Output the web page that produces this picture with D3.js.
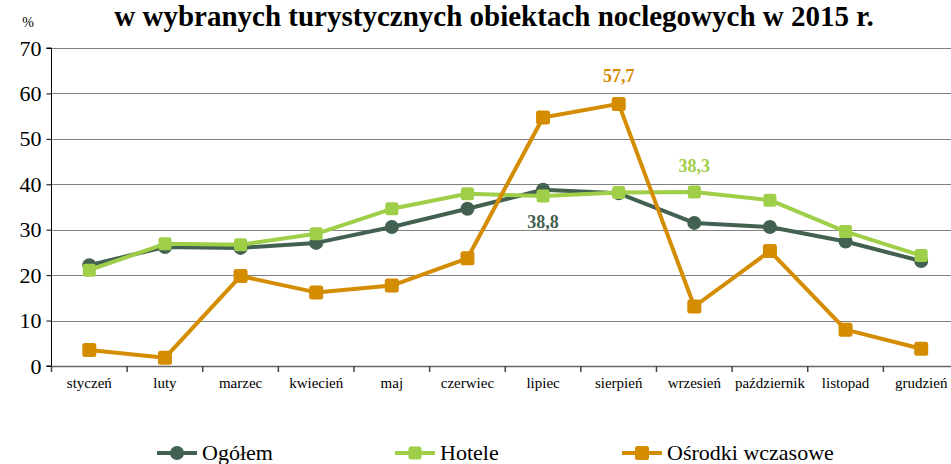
<!DOCTYPE html>
<html>
<head>
<meta charset="utf-8">
<script src="https://cdn.jsdelivr.net/npm/d3@7"></script>
<style>
  body { margin: 0; background: #fff; }
</style>
</head>
<body>
<svg width="951" height="464"></svg>
<script>
var months = ["styczeń", "luty", "marzec", "kwiecień", "maj", "czerwiec", "lipiec",
  "sierpień", "wrzesień", "październik", "listopad", "grudzień"];
var ogolem = [22.2, 26.2, 26.0, 27.1, 30.6, 34.6, 38.8, 38.0, 31.5, 30.6, 27.4, 23.1];
var hotele = [21.1, 26.9, 26.7, 29.1, 34.6, 37.9, 37.4, 38.2, 38.3, 36.5, 29.6, 24.3];
var osrodki = [3.5, 1.8, 19.8, 16.2, 17.7, 23.7, 54.7, 57.7, 13.1, 25.3, 8.0, 3.8];
var yTicks = [0, 10, 20, 30, 40, 50, 60, 70];
var seriesNames = ["Ogółem", "Hotele", "Ośrodki wczasowe"];
var labels = [
  {series: 2, index: 7, text: "57,7", dy: -22},
  {series: 1, index: 8, text: "38,3", dy: -20},
  {series: 0, index: 6, text: "38,8", dy: 38}
];

var serif = "Liberation Serif";
var svg = d3.select("svg");
var margin = {top: 48, left: 51.5};
var plotRight = 959, plotBottom = 366;

var x = d3.scaleBand().domain(months).range([margin.left, plotRight]);
var y = d3.scaleLinear().domain([0, 70]).range([plotBottom, margin.top]);

var colors = ["#436150", "#9fcf48", "#d48c00"];
var shapes = ["circle", "square", "square"];
var data = [ogolem, hotele, osrodki];

// title (its first line is cut off in the original)
svg.append("text")
  .attr("x", 494).attr("y", 26)
  .attr("text-anchor", "middle")
  .attr("font-family", serif)
  .attr("font-size", 29).attr("font-weight", "bold")
  .text("w wybranych turystycznych obiektach noclegowych w 2015 r.");

svg.append("text")
  .attr("x", 28).attr("y", 27)
  .attr("text-anchor", "middle")
  .attr("font-family", serif)
  .attr("font-size", 14)
  .text("%");

// gridlines
svg.append("g").selectAll("line")
  .data(yTicks.filter(function(d) { return d > 0; }))
  .enter().append("line")
    .attr("x1", margin.left).attr("x2", plotRight)
    .attr("y1", function(d) { return Math.round(y(d)) + 0.5; })
    .attr("y2", function(d) { return Math.round(y(d)) + 0.5; })
    .attr("stroke", "#000")
    .attr("stroke-width", 1)
    .attr("stroke-dasharray", "1,1");

// y axis
var yAxis = svg.append("g")
  .attr("transform", "translate(" + margin.left + ",0)")
  .call(d3.axisLeft(y).tickValues(yTicks).tickSize(5).tickPadding(5));
yAxis.attr("font-family", serif).attr("font-size", 22);
yAxis.select(".domain").attr("stroke", "#000").attr("d", "M-5," + y(70) + "H0V" + plotBottom + "H-5");
yAxis.selectAll(".tick line").attr("stroke", "#000");
yAxis.selectAll("text").attr("fill", "#000");

// x axis
var xAxis = svg.append("g")
  .attr("transform", "translate(0," + plotBottom + ")")
  .call(d3.axisBottom(x).tickSize(0).tickPadding(11));
xAxis.attr("font-family", serif).attr("font-size", 15);
xAxis.select(".domain").attr("stroke", "#666").attr("stroke-width", 1.5);
xAxis.selectAll("text").attr("fill", "#000");
svg.append("g").selectAll("line")
  .data(d3.range(months.length + 1))
  .enter().append("line")
    .attr("x1", function(i) { return margin.left + i * x.step(); })
    .attr("x2", function(i) { return margin.left + i * x.step(); })
    .attr("y1", plotBottom).attr("y2", plotBottom + 6)
    .attr("stroke", "#444").attr("stroke-width", 1.5);

var line = d3.line()
  .x(function(d, i) { return x(months[i]) + x.bandwidth() / 2; })
  .y(function(d) { return y(d); });

function drawMarker(g, shape, color, cx, cy, big) {
  if (shape === "circle") {
    g.append("circle").attr("cx", cx).attr("cy", cy).attr("r", 7).attr("fill", color);
  } else {
    var s = big ? 14 : 13;
    g.append("rect")
      .attr("x", cx - s / 2).attr("y", cy - s / 2)
      .attr("width", s).attr("height", s)
      .attr("rx", 2.5)
      .attr("fill", color);
  }
}

data.forEach(function(vals, k) {
  var g = svg.append("g");
  g.append("path")
    .attr("d", line(vals))
    .attr("fill", "none")
    .attr("stroke", colors[k])
    .attr("stroke-width", 4)
    .attr("stroke-linejoin", "round");
  vals.forEach(function(v, i) {
    drawMarker(g, shapes[k], colors[k], x(months[i]) + x.bandwidth() / 2, y(v), k === 2);
  });
});

// data labels
labels.forEach(function(l) {
  svg.append("text")
    .attr("x", x(months[l.index]) + x.bandwidth() / 2)
    .attr("y", y(data[l.series][l.index]) + l.dy)
    .attr("text-anchor", "middle")
    .attr("font-family", serif)
    .attr("font-size", 18).attr("font-weight", "bold")
    .attr("fill", colors[l.series])
    .text(l.text);
});

// legend
var legendX = [157, 395, 622];
var legend = svg.append("g").attr("font-family", serif).attr("font-size", 22);
seriesNames.forEach(function(name, k) {
  var lx = legendX[k], ly = 453;
  legend.append("line")
    .attr("x1", lx).attr("x2", lx + 40)
    .attr("y1", ly).attr("y2", ly)
    .attr("stroke", colors[k]).attr("stroke-width", 4);
  drawMarker(legend, shapes[k], colors[k], lx + 20, ly, k === 2);
  legend.append("text")
    .attr("x", lx + 45).attr("y", ly + 7)
    .text(name);
});
</script>
</body>
</html>
